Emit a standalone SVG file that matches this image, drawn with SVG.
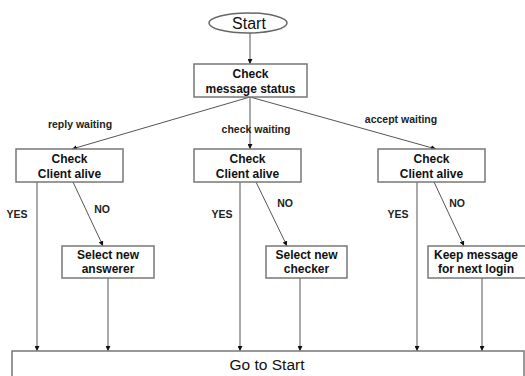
<svg xmlns="http://www.w3.org/2000/svg" width="525" height="376" viewBox="0 0 525 376">
<defs>
<marker id="ah" viewBox="0 0 10 10" refX="10" refY="5" markerWidth="5" markerHeight="5" markerUnits="userSpaceOnUse" orient="auto">
<path d="M0,0 L10,5 L0,10 z" fill="#111"/>
</marker>
<style>
.box{fill:#fff;stroke:#777;stroke-width:1.5}
.ln{fill:none;stroke:#555;stroke-width:1;marker-end:url(#ah)}
.b{font-family:"Liberation Sans",Arial,sans-serif;font-weight:bold;font-size:12px;fill:#111;text-anchor:middle}
.l{font-family:"Liberation Sans",Arial,sans-serif;font-weight:bold;font-size:10.5px;fill:#222;text-anchor:middle}
.r{font-family:"Liberation Sans",Arial,sans-serif;font-size:15.5px;fill:#111;text-anchor:middle}
</style>
</defs>
<rect width="525" height="376" fill="#fff"/>
<g id="connectors">
<line class="ln" x1="250" y1="33" x2="250" y2="64"/>
<line class="ln" x1="250" y1="97" x2="72" y2="149"/>
<line class="ln" x1="250" y1="97" x2="250" y2="149"/>
<line class="ln" x1="250" y1="97" x2="436" y2="149"/>
<line class="ln" x1="73" y1="182" x2="103" y2="246"/>
<line class="ln" x1="256" y1="182" x2="287" y2="246"/>
<line class="ln" x1="434" y1="182" x2="464" y2="246"/>
<line class="ln" x1="37" y1="182" x2="37" y2="351"/>
<line class="ln" x1="240" y1="182" x2="240" y2="351"/>
<line class="ln" x1="417" y1="182" x2="417" y2="351"/>
<line class="ln" x1="108" y1="278" x2="108" y2="351"/>
<line class="ln" x1="300" y1="278" x2="300" y2="351"/>
<line class="ln" x1="482" y1="278" x2="482" y2="351"/>
<text class="l" x="80" y="128">reply waiting</text>
<text class="l" x="256" y="133">check waiting</text>
<text class="l" x="401" y="123">accept waiting</text>
<text class="l" x="17" y="218">YES</text>
<text class="l" x="222" y="218">YES</text>
<text class="l" x="398" y="218">YES</text>
<text class="l" x="102" y="213">NO</text>
<text class="l" x="285" y="207">NO</text>
<text class="l" x="457" y="207">NO</text>
</g>
<g id="start">
<ellipse cx="248" cy="23" rx="39" ry="10" fill="#fff" stroke="#666" stroke-width="1.5"/>
<text class="r" x="249" y="29" style="font-size:16px">Start</text>
</g>
<g id="check-status">
<rect class="box" x="194" y="64" width="113" height="33"/>
<text class="b" x="250.5" y="78">Check</text>
<text class="b" x="250.5" y="93">message status</text>
</g>
<g id="check-reply">
<rect class="box" x="16" y="149" width="107" height="33"/>
<text class="b" x="69.5" y="163">Check</text>
<text class="b" x="69.5" y="178">Client alive</text>
</g>
<g id="check-check">
<rect class="box" x="194" y="149" width="107" height="33"/>
<text class="b" x="247.5" y="163">Check</text>
<text class="b" x="247.5" y="178">Client alive</text>
</g>
<g id="check-accept">
<rect class="box" x="378" y="149" width="107" height="33"/>
<text class="b" x="431.5" y="163">Check</text>
<text class="b" x="431.5" y="178">Client alive</text>
</g>
<g id="select-answerer">
<rect class="box" x="62" y="246" width="92" height="32"/>
<text class="b" x="108" y="259">Select new</text>
<text class="b" x="108" y="273">answerer</text>
</g>
<g id="select-checker">
<rect class="box" x="266" y="246" width="81" height="32"/>
<text class="b" x="306.5" y="259">Select new</text>
<text class="b" x="306.5" y="273">checker</text>
</g>
<g id="keep-message">
<rect class="box" x="428" y="246" width="98" height="32"/>
<text class="b" x="476" y="259">Keep message</text>
<text class="b" x="476" y="273">for next login</text>
</g>
<g id="go-to-start">
<rect class="box" x="12" y="351" width="512" height="40"/>
<text class="r" x="267" y="370">Go to Start</text>
</g>
</svg>
